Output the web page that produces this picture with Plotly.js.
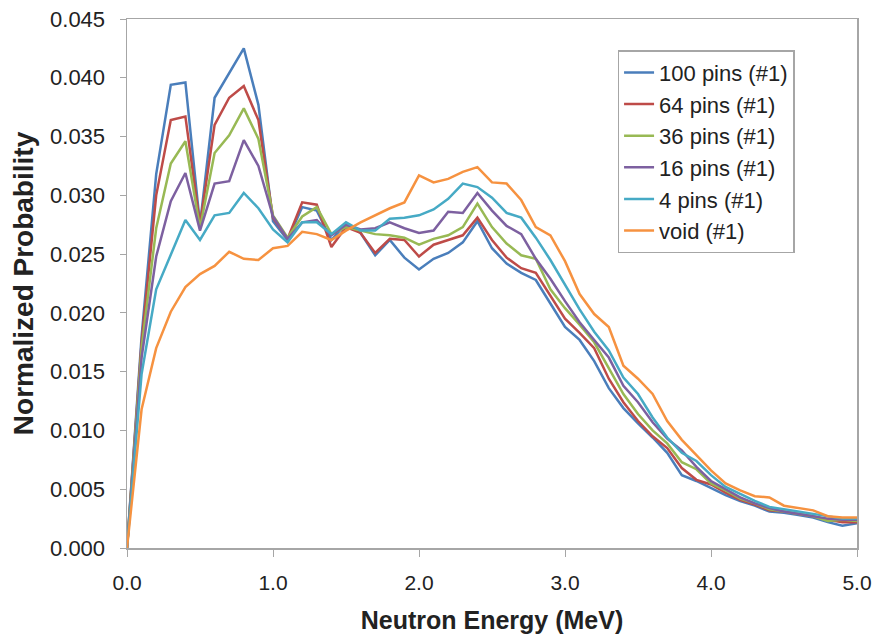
<!DOCTYPE html>
<html>
<head>
<meta charset="utf-8">
<script src="https://cdn.plot.ly/plotly-3.0.1.min.js"></script>
<style>html,body{margin:0;padding:0;background:#fff;}#chart{width:878px;height:636px;}</style>
</head>
<body>
<div id="chart"></div>
<script>
// Neutron energy grid (MeV), 0.0 .. 5.0 in 0.1 steps
const energy = [0.0,0.1,0.2,0.3,0.4,0.5,0.6,0.7,0.8,0.9,1.0,1.1,1.2,1.3,1.4,1.5,1.6,1.7,1.8,1.9,2.0,2.1,2.2,2.3,2.4,2.5,2.6,2.7,2.8,2.9,3.0,3.1,3.2,3.3,3.4,3.5,3.6,3.7,3.8,3.9,4.0,4.1,4.2,4.3,4.4,4.5,4.6,4.7,4.8,4.9,5.0];

const seriesNames = ["100 pins (#1)", "64 pins (#1)", "36 pins (#1)", "16 pins (#1)", "4 pins (#1)", "void (#1)"];

const pins100 = [0,0.0180,0.0318,0.0394,0.0396,0.0275,0.0383,0.0404,0.0425,0.0377,0.0278,0.0262,0.0290,0.0287,0.0262,0.0276,0.0268,0.0249,0.0262,0.0247,0.0237,0.0246,0.0251,0.0260,0.0278,0.0255,0.0242,0.0234,0.0228,0.0208,0.0188,0.0177,0.0159,0.0136,0.0119,0.0106,0.0094,0.0081,0.0062,0.0057,0.0051,0.0045,0.0040,0.0036,0.0031,0.0030,0.0028,0.0026,0.0022,0.0019,0.0021];
const pins64 = [0,0.0175,0.0300,0.0364,0.0367,0.0275,0.0360,0.0383,0.0393,0.0364,0.0281,0.0263,0.0294,0.0292,0.0256,0.0273,0.0268,0.0251,0.0263,0.0262,0.0248,0.0258,0.0262,0.0266,0.0281,0.0262,0.0247,0.0238,0.0234,0.0215,0.0195,0.0183,0.0170,0.0144,0.0124,0.0108,0.0095,0.0085,0.0068,0.0058,0.0054,0.0047,0.0041,0.0037,0.0032,0.0031,0.0029,0.0027,0.0024,0.0022,0.0022];
const pins36 = [0,0.0170,0.0272,0.0327,0.0346,0.0272,0.0336,0.0351,0.0374,0.0348,0.0283,0.0264,0.0282,0.0290,0.0267,0.0273,0.0270,0.0267,0.0266,0.0264,0.0258,0.0263,0.0266,0.0273,0.0293,0.0273,0.0259,0.0249,0.0246,0.0220,0.0204,0.0190,0.0175,0.0153,0.0131,0.0114,0.0100,0.0089,0.0073,0.0067,0.0055,0.0049,0.0042,0.0038,0.0033,0.0031,0.0029,0.0027,0.0023,0.0024,0.0023];
const pins16 = [0,0.0162,0.0248,0.0295,0.0319,0.0270,0.0310,0.0312,0.0347,0.0325,0.0282,0.0263,0.0277,0.0279,0.0266,0.0275,0.0271,0.0272,0.0277,0.0272,0.0268,0.0270,0.0286,0.0285,0.0302,0.0287,0.0274,0.0267,0.0246,0.0229,0.0210,0.0192,0.0177,0.0162,0.0138,0.0124,0.0107,0.0093,0.0083,0.0069,0.0057,0.0050,0.0043,0.0038,0.0034,0.0031,0.0029,0.0027,0.0025,0.0024,0.0024];
const pins4 = [0,0.0148,0.0220,0.0250,0.0279,0.0262,0.0283,0.0285,0.0302,0.0289,0.0271,0.0260,0.0277,0.0277,0.0267,0.0277,0.0270,0.0270,0.0280,0.0281,0.0283,0.0288,0.0297,0.0310,0.0307,0.0298,0.0285,0.0281,0.0264,0.0245,0.0224,0.0203,0.0184,0.0168,0.0145,0.0131,0.0111,0.0094,0.0081,0.0074,0.0062,0.0052,0.0046,0.0040,0.0035,0.0033,0.0031,0.0029,0.0027,0.0025,0.0025];
const voidCase = [0,0.0118,0.0170,0.0201,0.0222,0.0233,0.0240,0.0252,0.0246,0.0245,0.0255,0.0257,0.0269,0.0267,0.0262,0.0270,0.0277,0.0283,0.0289,0.0294,0.0317,0.0311,0.0314,0.0320,0.0324,0.0311,0.0310,0.0296,0.0273,0.0266,0.0244,0.0216,0.0199,0.0188,0.0155,0.0144,0.0131,0.0108,0.0092,0.0079,0.0066,0.0055,0.0049,0.0044,0.0043,0.0036,0.0034,0.0032,0.0027,0.0026,0.0026];

const xTickVals = [0,1,2,3,4,5];
const xTickText = ["0.0","1.0","2.0","3.0","4.0","5.0"];
const yTickVals = [0,0.005,0.010,0.015,0.020,0.025,0.030,0.035,0.040,0.045];
const yTickText = ["0.000","0.005","0.010","0.015","0.020","0.025","0.030","0.035","0.040","0.045"];

const allSeries = [pins100, pins64, pins36, pins16, pins4, voidCase];
const colors = ["#4A7EBB", "#BE4B48", "#98B954", "#7D60A0", "#46AAC5", "#F69240"];

const traces = allSeries.map((ys, i) => ({
  x: energy, y: ys, type: "scatter", mode: "lines", name: seriesNames[i],
  legendgroup: "g" + i,
  line: {color: colors[i], width: 2.5}
}));

const FONT = "Liberation Sans, Arial, sans-serif";
const layout = {
  width: 878, height: 636,
  paper_bgcolor: "#fff", plot_bgcolor: "#fff",
  margin: {l: 127, r: 21, t: 19, b: 88},
  font: {family: FONT, color: "#222", size: 21},
  showlegend: true,
  legend: {
    x: 0.672, y: 0.941, xanchor: "left", yanchor: "top",
    bgcolor: "#fff", bordercolor: "#a6a6a6", borderwidth: 1.5,
    font: {family: FONT, size: 22, color: "#222"},
    tracegroupgap: 1, traceorder: "normal"
  },
  xaxis: {
    range: [0, 5], tickmode: "array", tickvals: xTickVals, ticktext: xTickText,
    ticks: "outside", ticklen: 7, tickcolor: "#a6a6a6", ticklabelstandoff: 8,
    showline: true, linecolor: "#a6a6a6", linewidth: 1.5, mirror: true,
    showgrid: false, zeroline: false,
    tickfont: {family: FONT, size: 21, color: "#222"},
    title: {text: "Neutron Energy (MeV)", font: {family: FONT, size: 25, color: "#222", weight: "bold"}, standoff: 19}
  },
  yaxis: {
    range: [0, 0.045], tickmode: "array", tickvals: yTickVals, ticktext: yTickText,
    ticks: "outside", ticklen: 6, tickcolor: "#a6a6a6", ticklabelstandoff: 10,
    showline: true, linecolor: "#a6a6a6", linewidth: 1.5, mirror: true,
    showgrid: false, zeroline: false,
    tickfont: {family: FONT, size: 22, color: "#222"},
    title: {text: "Normalized Probability", font: {family: FONT, size: 28, color: "#222", weight: "bold"}, standoff: 8}
  }
};

Plotly.newPlot("chart", traces, layout, {displayModeBar: false, staticPlot: true});
</script>
</body>
</html>
